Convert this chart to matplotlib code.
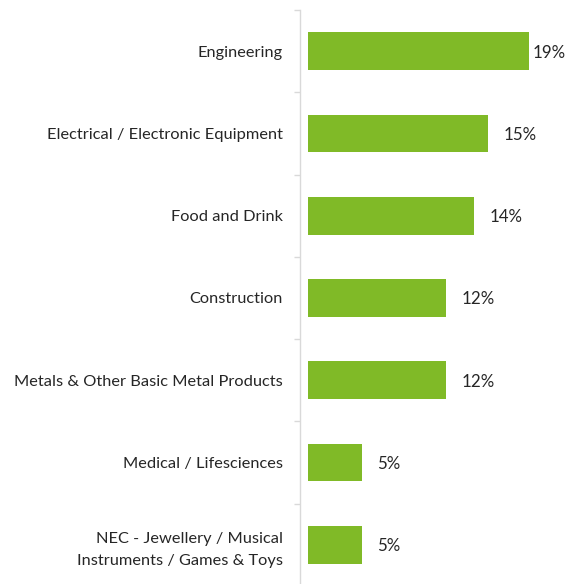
import matplotlib
matplotlib.use("Agg")
import matplotlib.pyplot as plt
import numpy as np

categories = [
    "Engineering",
    "Electrical / Electronic Equipment",
    "Food and Drink",
    "Construction",
    "Metals & Other Basic Metal Products",
    "Medical / Lifesciences",
    "NEC - Jewellery / Musical\nInstruments / Games & Toys",
]
values = [18.9, 15.4, 14.2, 11.8, 11.8, 4.6, 4.6]
value_labels = ["19%", "15%", "14%", "12%", "12%", "5%", "5%"]

plt.rcParams['font.family'] = ['Lato', 'DejaVu Sans']

fig = plt.figure(figsize=(5.69, 5.84), dpi=100)
W, H = 569, 584
ax = fig.add_axes([300 / W, 1 - 586 / H, (569 - 300) / W, 576 / H])

y = np.arange(len(categories))
ax.barh(y, values, height=0.46, color="#80BA27", left=0)
ax.set_ylim(len(categories) - 0.5, -0.5)
ax.set_xlim(-0.68, (569 - 300) / 11.72 - 0.68)

for s in ["top", "right", "bottom"]:
    ax.spines[s].set_visible(False)
ax.spines["left"].set_color("#D9D9D9")
ax.spines["left"].set_linewidth(1.0)

ax.set_xticks([])
ax.set_yticks(y)
ax.set_yticklabels(categories, fontsize=11.8, color="#262626", linespacing=1.65)
ax.tick_params(axis="y", which="major", length=0, pad=12.2)
ax.set_yticks(np.arange(-0.5, len(categories) + 0.5, 1), minor=True)
ax.tick_params(axis="y", which="minor", length=4.5, color="#D9D9D9", width=1.0)

for i, (v, lab) in enumerate(zip(values, value_labels)):
    off = 2.2 if i == 0 else 10.8
    ax.annotate(lab, xy=(v, i), xytext=(off, 0), textcoords="offset points",
                ha="left", va="center_baseline", fontsize=12.2, color="#262626")

fig.savefig("out.png", dpi=100)
